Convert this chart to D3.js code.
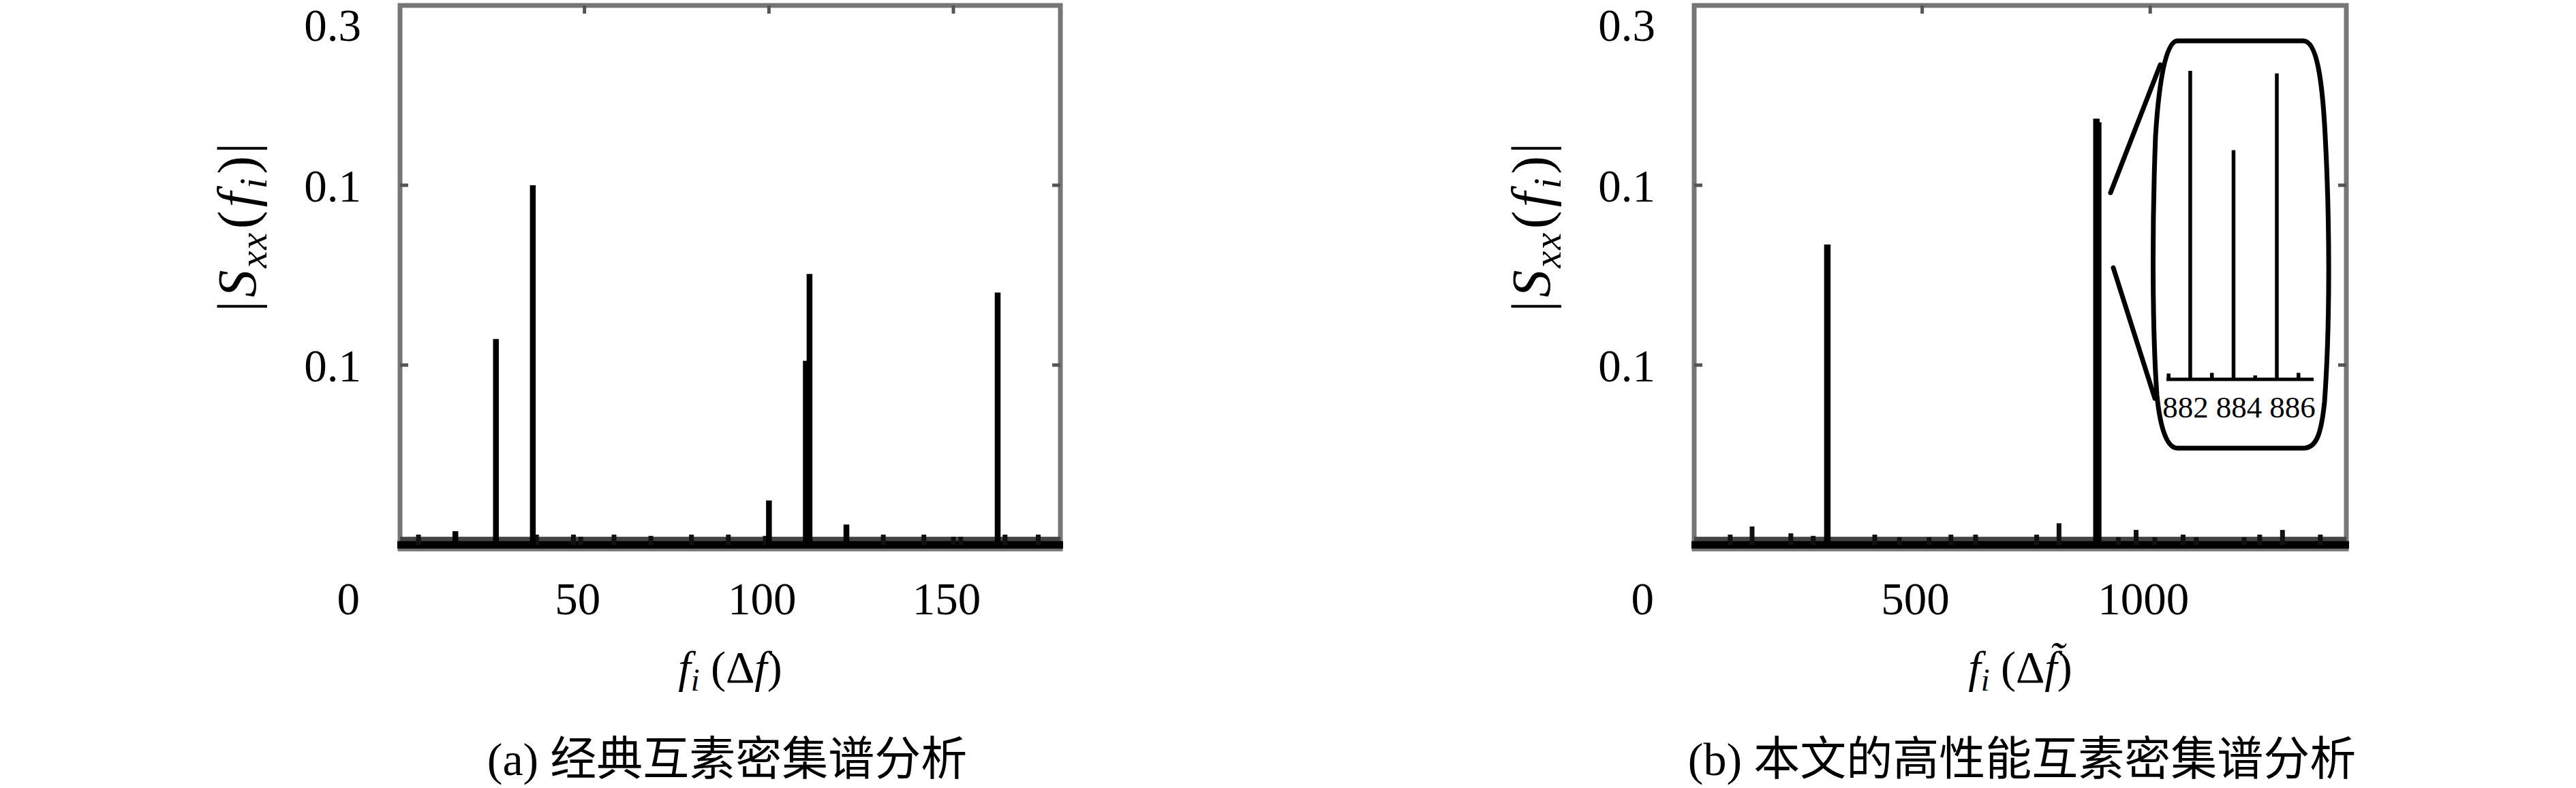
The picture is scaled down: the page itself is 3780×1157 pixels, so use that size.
<!DOCTYPE html>
<html><head><meta charset="utf-8">
<script src="https://cdn.jsdelivr.net/npm/d3@7"></script>
<style>
html,body{margin:0;padding:0;background:#fff;}
svg{display:block;}
</style></head><body>
<svg id="chart" width="3780" height="1157"></svg>
<script>
// ---------------- data ----------------
const yTickValues = [0.1, 0.2, 0.3];
const yTickLabels = ["0.1", "0.1", "0.3"];
const originLabel = "0";

const leftTickValues = [50, 100, 150];
const leftTickLabels = ["50", "100", "150"];
const rightTickValues = [500, 1000];
const rightTickLabels = ["500", "1000"];

const leftPeakFreq = [15, 26, 36, 100, 110, 111, 121, 162];
const leftPeakMag  = [0.0076, 0.1145, 0.200, 0.0247, 0.1024, 0.1507, 0.0113, 0.1403];
const leftMinorFreq = [5, 37, 47, 49, 58, 68, 79, 89, 99, 131, 142, 150, 152, 164, 173];
const leftMinorMag  = [0.0057, 0.0057, 0.0057, 0.0045, 0.0057, 0.0050, 0.0057, 0.0057, 0.0050, 0.0057, 0.0057, 0.0045, 0.0045, 0.0057, 0.0057];

const rightPeakFreq = [292, 882, 884, 886];
const rightPeakMag  = [0.167, 0.237, 0.176, 0.235];
const rightMinorFreq = [79, 127, 212, 261, 396, 450, 515, 563, 617, 751, 800, 930, 969, 1010, 1072, 1101, 1206, 1240, 1290, 1373];
const rightMinorMag  = [0.0057, 0.0102, 0.0064, 0.0050, 0.0057, 0.0042, 0.0042, 0.0057, 0.0057, 0.0057, 0.0120, 0.0042, 0.0083, 0.0042, 0.0057, 0.0042, 0.0042, 0.0057, 0.0083, 0.0057];

const insetFreq = [881, 882, 883, 884, 885, 886, 887];
const insetMag  = [0.0045, 0.237, 0.0050, 0.176, 0.0030, 0.235, 0.0050];
const insetTickValues = [882, 884, 886];
const insetTickLabels = ["882", "884", "886"];

const noiseFloor = 0.0045;
const captionA = "(a) 经典互素密集谱分析";
const captionB = "(b) 本文的高性能互素密集谱分析";

// ---------------- drawing ----------------
const svg = d3.select("#chart");
const SERIF = "'Liberation Serif','DejaVu Serif',serif";
const CAPFONT = "'Liberation Serif','Noto Sans CJK SC',sans-serif";
const boxColor = "#767676";
const TICKFS = 67;

const y = d3.scaleLinear().domain([0, 0.3]).range([800, 8]);

function panel(cfg) {
  const g = svg.append("g");
  const x = d3.scaleLinear().domain(cfg.domain).range(cfg.range);
  const [L, R] = cfg.range;
  const top = y(0.3), bottom = 806;

  // frame
  g.append("rect").attr("x", L).attr("y", top).attr("width", R - L).attr("height", bottom - top)
    .attr("fill", "none").attr("stroke", boxColor).attr("stroke-width", 7);

  // inward ticks: top x ticks
  g.selectAll(".xt").data(cfg.ticks).enter().append("line")
    .attr("x1", d => x(d)).attr("x2", d => x(d)).attr("y1", top).attr("y2", top + 12)
    .attr("stroke", "#555").attr("stroke-width", 5);
  // y ticks left and right
  [0, 1].forEach(side => {
    g.selectAll(".yt" + side).data(yTickValues.slice(0, 2)).enter().append("line")
      .attr("x1", side ? R : L).attr("x2", side ? R - 12 : L + 12)
      .attr("y1", d => y(d)).attr("y2", d => y(d))
      .attr("stroke", "#555").attr("stroke-width", 5);
  });

  // noise floor band
  g.append("rect").attr("x", L).attr("y", y(noiseFloor)).attr("width", R - L)
    .attr("height", y(0) - y(noiseFloor)).attr("fill", "#444");
  g.append("line").attr("x1", L - 4).attr("x2", R + 4).attr("y1", y(0)).attr("y2", y(0))
    .attr("stroke", "#000").attr("stroke-width", 11);

  // minor stems
  g.selectAll(".minor").data(d3.zip(cfg.minorF, cfg.minorM)).enter().append("line")
    .attr("x1", d => x(d[0])).attr("x2", d => x(d[0]))
    .attr("y1", y(0)).attr("y2", d => y(d[1]))
    .attr("stroke", "#111").attr("stroke-width", 7);
  // major stems
  g.selectAll(".major").data(d3.zip(cfg.peakF, cfg.peakM)).enter().append("line")
    .attr("x1", d => x(d[0])).attr("x2", d => x(d[0]))
    .attr("y1", y(0)).attr("y2", d => y(d[1]))
    .attr("stroke", "#000").attr("stroke-width", cfg.stemW);

  // y tick labels
  const labX = L - 57;
  g.selectAll(".yl").data(d3.zip(yTickValues, yTickLabels)).enter().append("text")
    .attr("x", labX).attr("y", d => d[0] === 0.3 ? 60 : y(d[0]) + 24)
    .attr("text-anchor", "end").attr("font-family", SERIF).attr("font-size", TICKFS)
    .text(d => d[1]);
  g.append("text").attr("x", labX - 2).attr("y", 902).attr("text-anchor", "end")
    .attr("font-family", SERIF).attr("font-size", TICKFS).text(originLabel);

  // x tick labels
  g.selectAll(".xl").data(d3.zip(cfg.ticks, cfg.tickLabels)).enter().append("text")
    .attr("x", d => x(d[0]) - 10).attr("y", 902)
    .attr("text-anchor", "middle").attr("font-family", SERIF).attr("font-size", TICKFS)
    .text(d => d[1]);

  // y-axis title
  const yt = g.append("text")
    .attr("transform", `translate(${L - 212},${y(0.177)}) rotate(-90)`)
    .attr("text-anchor", "middle").attr("font-family", SERIF).attr("font-size", 80)
    .attr("letter-spacing", 2);
  yt.append("tspan").text("|");
  yt.append("tspan").attr("font-style", "italic").attr("dx", 3).text("S");
  yt.append("tspan").attr("font-style", "italic").attr("font-size", 56).attr("dy", 16).attr("dx", 1).text("xx");
  yt.append("tspan").attr("dy", -16).attr("dx", 4).text("(");
  yt.append("tspan").attr("font-style", "italic").attr("dx", 3).text("f");
  yt.append("tspan").attr("font-style", "italic").attr("font-size", 56).attr("dy", 16).attr("dx", 3).text("i");
  yt.append("tspan").attr("dy", -16).attr("dx", 4).text(")");
  yt.append("tspan").attr("dx", 1).text("|");

  // x-axis title
  const xt = g.append("text").attr("x", (L + R) / 2).attr("y", 1002)
    .attr("text-anchor", "middle").attr("font-family", SERIF).attr("font-size", 66);
  xt.append("tspan").attr("font-style", "italic").text("f");
  xt.append("tspan").attr("font-style", "italic").attr("font-size", 46).attr("dy", 12).text("i");
  xt.append("tspan").attr("dy", -12).text(" (Δ");
  xt.append("tspan").attr("font-style", "italic").text(cfg.tilde ? "f\u0303" : "f");
  xt.append("tspan").text(")");

  // caption
  g.append("text").attr("x", cfg.capX).attr("y", 1138).attr("text-anchor", "middle")
    .attr("font-family", CAPFONT).attr("font-size", 68).text(cfg.caption);

  return {g, x};
}

panel({
  domain: [0, 179], range: [587, 1556], ticks: leftTickValues, tickLabels: leftTickLabels,
  peakF: leftPeakFreq, peakM: leftPeakMag, minorF: leftMinorFreq, minorM: leftMinorMag,
  stemW: 8.5, caption: captionA, capX: 1067, tilde: false
});
panel({
  domain: [0, 1430], range: [2486, 3443], ticks: rightTickValues, tickLabels: rightTickLabels,
  peakF: rightPeakFreq, peakM: rightPeakMag, minorF: rightMinorFreq, minorM: rightMinorMag,
  stemW: 9.5, caption: captionB, capX: 2967, tilde: true
});

// ---------------- inset ----------------
const ig = svg.append("g");
const xi = d3.scaleLinear().domain([880.9, 887.7]).range([3179, 3395]);
const yi = d3.scaleLinear().domain([0, 0.237]).range([557, 104]);

// outline (barrel-shaped rounded frame)
ig.append("path")
  .attr("d", "M3195,60 L3380,60 C3400,60 3408,120 3412,200 C3419,330 3419,480 3411,590 C3406,640 3398,658 3380,658 L3195,658 C3180,658 3170,630 3165,580 C3158,480 3158,330 3163,200 C3168,120 3178,60 3195,60 Z")
  .attr("fill", "#fff").attr("stroke", "#000").attr("stroke-width", 7);
// connector lines from the main peak
ig.append("line").attr("x1", 3097).attr("y1", 283).attr("x2", 3170).attr("y2", 95)
  .attr("stroke", "#000").attr("stroke-width", 7).attr("stroke-linecap", "round");
ig.append("line").attr("x1", 3101).attr("y1", 393).attr("x2", 3162).attr("y2", 585)
  .attr("stroke", "#000").attr("stroke-width", 7).attr("stroke-linecap", "round");

ig.append("line").attr("x1", xi.range()[0]).attr("x2", xi.range()[1]).attr("y1", yi(0)).attr("y2", yi(0))
  .attr("stroke", "#000").attr("stroke-width", 5);
ig.selectAll(".is").data(d3.zip(insetFreq, insetMag)).enter().append("line")
  .attr("x1", d => xi(d[0])).attr("x2", d => xi(d[0]))
  .attr("y1", yi(0)).attr("y2", d => yi(d[1]))
  .attr("stroke", "#000").attr("stroke-width", 5.5);
const xiLabel = d3.scaleLinear().domain([882, 886]).range([3207, 3364]);
ig.selectAll(".il").data(d3.zip(insetTickValues, insetTickLabels)).enter().append("text")
  .attr("x", d => xiLabel(d[0])).attr("y", 613).attr("text-anchor", "middle")
  .attr("font-family", SERIF).attr("font-size", 45).text(d => d[1]);
</script>
</body></html>
